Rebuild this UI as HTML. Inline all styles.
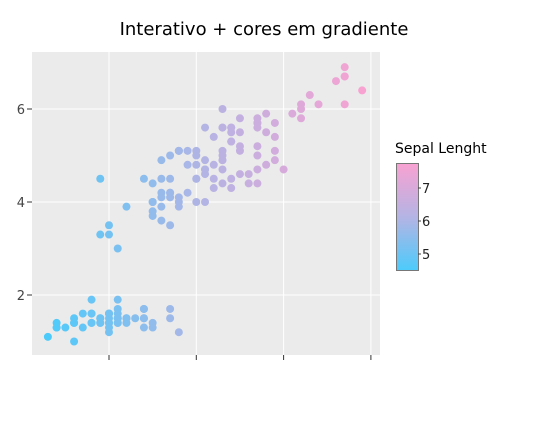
<!DOCTYPE html>
<html><head><meta charset="utf-8"><style>
body{margin:0;background:#fff;font-family:"DejaVu Sans","Liberation Sans",sans-serif}
</style></head><body>
<svg width="538" height="418" xmlns="http://www.w3.org/2000/svg" font-family="DejaVu Sans, Liberation Sans, sans-serif">
<defs><linearGradient id="cg" x1="0" y1="1" x2="0" y2="0">
<stop offset="0" stop-color="#4ccbfb"/><stop offset="0.5" stop-color="#b4b4e4"/><stop offset="1" stop-color="#f8a2d2"/></linearGradient></defs>
<text x="264" y="35" text-anchor="middle" font-size="18" fill="#000">Interativo + cores em gradiente</text>
<rect x="32" y="52" width="348" height="303" fill="#ebebeb"/>
<g id="grid"></g>
<g id="pts"></g>
<text x="395" y="153" font-size="14" fill="#000">Sepal Lenght</text>
<rect x="396.5" y="163.5" width="22" height="107" fill="url(#cg)" stroke="#777"/>
<g id="cbt"></g>
</svg>
<script>
const sepalLength=[5.1,4.9,4.7,4.6,5.0,5.4,4.6,5.0,4.4,4.9,5.4,4.8,4.8,4.3,5.8,5.7,5.4,5.1,5.7,5.1,5.4,5.1,4.6,5.1,4.8,5.0,5.0,5.2,5.2,4.7,4.8,5.4,5.2,5.5,4.9,5.0,5.5,4.9,4.4,5.1,5.0,4.5,4.4,5.0,5.1,4.8,5.1,4.6,5.3,5.0,
7.0,6.4,6.9,5.5,6.5,5.7,6.3,4.9,6.6,5.2,5.0,5.9,6.0,6.1,5.6,6.7,5.6,5.8,6.2,5.6,5.9,6.1,6.3,6.1,6.4,6.6,6.8,6.7,6.0,5.7,5.5,5.5,5.8,6.0,5.4,6.0,6.7,6.3,5.6,5.5,5.5,6.1,5.8,5.0,5.6,5.7,5.7,6.2,5.1,5.7,
6.3,5.8,7.1,6.3,6.5,7.6,4.9,7.3,6.7,7.2,6.5,6.4,6.8,5.7,5.8,6.4,6.5,7.7,7.7,6.0,6.9,5.6,7.7,6.3,6.7,7.2,6.2,6.1,6.4,7.2,7.4,7.9,6.4,6.3,6.1,7.7,6.3,6.4,6.0,6.9,6.7,6.9,5.8,6.8,6.7,6.7,6.3,6.5,6.2,5.9];
const petalLength=[1.4,1.4,1.3,1.5,1.4,1.7,1.4,1.5,1.4,1.5,1.5,1.6,1.4,1.1,1.2,1.5,1.3,1.4,1.7,1.5,1.7,1.5,1.0,1.7,1.9,1.6,1.6,1.5,1.4,1.6,1.6,1.5,1.5,1.4,1.5,1.2,1.3,1.4,1.3,1.5,1.3,1.3,1.3,1.6,1.9,1.4,1.6,1.4,1.5,1.4,
4.7,4.5,4.9,4.0,4.6,4.5,4.7,3.3,4.6,3.9,3.5,4.2,4.0,4.7,3.6,4.4,4.5,4.1,4.5,3.9,4.8,4.0,4.9,4.7,4.3,4.4,4.8,5.0,4.5,3.5,3.8,3.7,3.9,5.1,4.5,4.5,4.7,4.4,4.1,4.0,4.4,4.6,4.0,3.3,4.2,4.2,4.2,4.3,3.0,4.1,
6.0,5.1,5.9,5.6,5.8,6.6,4.5,6.3,5.8,6.1,5.1,5.3,5.5,5.0,5.1,5.3,5.5,6.7,6.9,5.0,5.7,4.9,6.7,4.9,5.7,6.0,4.8,4.9,5.6,5.8,6.1,6.4,5.6,5.1,5.6,6.1,5.6,5.5,4.8,5.4,5.6,5.1,5.1,5.9,5.7,5.2,5.0,5.2,5.4,5.1];
const xTicks=[5,6,7,8];
const yTicks=[2,4,6];
const cbTicks=[5,6,7];
const NS="http://www.w3.org/2000/svg";
const X=v=>109+(v-5)*87.3, Y=v=>295-(v-2)*46.5, CY=v=>188-(v-7)*33;
function col(v){const t=Math.max(0,Math.min(1,(v-4.3)/3.6));
 const a=[76,203,251],b=[180,180,228],c=[248,162,210];let p,q,s;
 if(t<.5){p=a;q=b;s=t*2}else{p=b;q=c;s=(t-.5)*2}
 return `rgb(${p.map((x,i)=>Math.round(x+(q[i]-x)*s)).join(',')})`;}
function mk(tag,at,par){const e=document.createElementNS(NS,tag);for(const k in at)e.setAttribute(k,at[k]);document.getElementById(par).appendChild(e);return e;}
xTicks.forEach(v=>{
 const l=mk('line',{x1:X(v),x2:X(v),y1:52,y2:355,stroke:'#fff','stroke-width':1},'grid');
 
 
 const t=mk('line',{x1:X(v),x2:X(v),y1:355,y2:360,stroke:'#333','stroke-width':1},'grid');
 
 
});
yTicks.forEach(v=>{
 const l=mk('line',{x1:32,x2:380,y1:Y(v),y2:Y(v),stroke:'#fff','stroke-width':1},'grid');
 
 
 const t=mk('line',{x1:27,x2:32,y1:Y(v),y2:Y(v),stroke:'#333','stroke-width':1},'grid');
 
 
 const tx=mk('text',{x:25,y:Y(v)+5,'text-anchor':'end','font-size':13,fill:'#444'},'grid');
 tx.textContent=v;
 
 
});
sepalLength.forEach((s,i)=>{
 const c=mk('circle',{cx:X(s),cy:Y(petalLength[i]),r:4,fill:col(s)},'pts');
 
 
});
cbTicks.forEach(v=>{
 const l=mk('line',{x1:418,x2:421,y1:CY(v),y2:CY(v),stroke:'#444'},'cbt');
 
 
 const t=mk('text',{x:422,y:CY(v)+5,'font-size':13,fill:'#222'},'cbt');
 t.textContent=v;
 
 
});
</script>
</body></html>
